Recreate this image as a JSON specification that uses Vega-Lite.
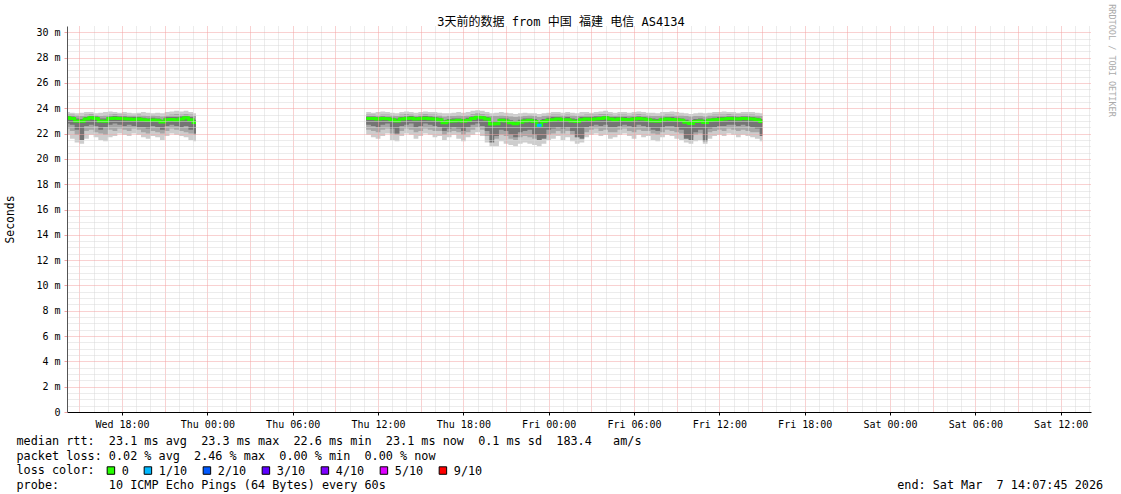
{
  "$schema": "https://vega.github.io/schema/vega-lite/v6.json",
  "width": 1024,
  "height": 386,
  "autosize": {"type": "none"},
  "padding": {"left": 67, "top": 26, "right": 30, "bottom": 82},
  "background": "white",
  "config": {"view": {"stroke": null}, "font": "DejaVu Sans Mono"},
  "data": {
    "values": [
      {"t":"2026-03-04T14:00:00Z","s":1,"m":23.25,"a1":21.9,"a2":23.7,"b1":22.4,"b2":23.5,"c1":22.8,"c2":23.4},
      {"t":"2026-03-04T14:20:00Z","s":1,"m":23.2,"a1":21.6,"a2":23.65,"b1":22.2,"b2":23.5,"c1":22.7,"c2":23.35},
      {"t":"2026-03-04T14:40:00Z","s":1,"m":23.0,"a1":21.3,"a2":23.6,"b1":21.9,"b2":23.45,"c1":22.3,"c2":23.2},
      {"t":"2026-03-04T15:00:00Z","s":1,"m":22.98,"a1":21.2,"a2":23.65,"b1":21.8,"b2":23.4,"c1":21.5,"c2":23.15},
      {"t":"2026-03-04T15:20:00Z","s":1,"m":23.15,"a1":21.6,"a2":23.7,"b1":22.2,"b2":23.5,"c1":22.6,"c2":23.3},
      {"t":"2026-03-04T15:40:00Z","s":1,"m":23.25,"a1":21.9,"a2":23.7,"b1":22.3,"b2":23.55,"c1":22.7,"c2":23.4},
      {"t":"2026-03-04T16:00:00Z","s":1,"m":23.2,"a1":21.7,"a2":23.6,"b1":22.1,"b2":23.45,"c1":22.6,"c2":23.35},
      {"t":"2026-03-04T16:20:00Z","s":1,"m":23.0,"a1":21.5,"a2":23.65,"b1":22.0,"b2":23.4,"c1":22.3,"c2":23.2},
      {"t":"2026-03-04T16:40:00Z","s":1,"m":22.98,"a1":21.4,"a2":23.7,"b1":21.9,"b2":23.45,"c1":22.5,"c2":23.2},
      {"t":"2026-03-04T17:00:00Z","s":1,"m":23.2,"a1":21.7,"a2":23.75,"b1":22.3,"b2":23.5,"c1":22.7,"c2":23.35},
      {"t":"2026-03-04T17:20:00Z","s":1,"m":23.22,"a1":21.8,"a2":23.7,"b1":22.2,"b2":23.55,"c1":22.8,"c2":23.4},
      {"t":"2026-03-04T17:40:00Z","s":1,"m":23.2,"a1":22.0,"a2":23.65,"b1":22.4,"b2":23.5,"c1":22.7,"c2":23.35},
      {"t":"2026-03-04T18:00:00Z","s":1,"m":23.18,"a1":21.9,"a2":23.7,"b1":22.3,"b2":23.5,"c1":22.6,"c2":23.35},
      {"t":"2026-03-04T18:20:00Z","s":1,"m":23.15,"a1":21.8,"a2":23.65,"b1":22.2,"b2":23.45,"c1":22.7,"c2":23.3},
      {"t":"2026-03-04T18:40:00Z","s":1,"m":23.12,"a1":22.0,"a2":23.6,"b1":22.4,"b2":23.45,"c1":22.6,"c2":23.3},
      {"t":"2026-03-04T19:00:00Z","s":1,"m":23.15,"a1":21.9,"a2":23.65,"b1":22.3,"b2":23.5,"c1":22.5,"c2":23.3},
      {"t":"2026-03-04T19:20:00Z","s":1,"m":23.1,"a1":21.7,"a2":23.7,"b1":22.1,"b2":23.45,"c1":22.5,"c2":23.25},
      {"t":"2026-03-04T19:40:00Z","s":1,"m":23.05,"a1":21.6,"a2":23.65,"b1":22.0,"b2":23.4,"c1":22.4,"c2":23.2},
      {"t":"2026-03-04T20:00:00Z","s":1,"m":23.08,"a1":21.8,"a2":23.6,"b1":22.2,"b2":23.45,"c1":22.6,"c2":23.25},
      {"t":"2026-03-04T20:20:00Z","s":1,"m":23.05,"a1":21.7,"a2":23.65,"b1":22.1,"b2":23.4,"c1":22.5,"c2":23.2},
      {"t":"2026-03-04T20:40:00Z","s":1,"m":22.92,"a1":21.5,"a2":23.6,"b1":22.0,"b2":23.35,"c1":22.3,"c2":23.1},
      {"t":"2026-03-04T21:00:00Z","s":1,"m":23.1,"a1":21.8,"a2":23.7,"b1":22.2,"b2":23.45,"c1":22.6,"c2":23.3},
      {"t":"2026-03-04T21:20:00Z","s":1,"m":23.12,"a1":22.0,"a2":23.75,"b1":22.4,"b2":23.5,"c1":22.7,"c2":23.3},
      {"t":"2026-03-04T21:40:00Z","s":1,"m":23.08,"a1":21.9,"a2":23.8,"b1":22.3,"b2":23.55,"c1":22.6,"c2":23.3},
      {"t":"2026-03-04T22:00:00Z","s":1,"m":23.15,"a1":21.8,"a2":23.75,"b1":22.2,"b2":23.5,"c1":22.5,"c2":23.35},
      {"t":"2026-03-04T22:20:00Z","s":1,"m":23.25,"a1":21.7,"a2":23.8,"b1":22.1,"b2":23.55,"c1":22.6,"c2":23.4},
      {"t":"2026-03-04T22:40:00Z","s":1,"m":23.1,"a1":21.5,"a2":23.7,"b1":22.0,"b2":23.5,"c1":22.3,"c2":23.3},
      {"t":"2026-03-04T23:00:00Z","s":1,"m":22.88,"a1":21.4,"a2":23.6,"b1":21.9,"b2":23.4,"c1":22.0,"c2":23.1},
      {"t":"2026-03-04T23:12:00Z","s":1,"m":22.88,"a1":21.4,"a2":23.6,"b1":21.9,"b2":23.4,"c1":22.0,"c2":23.1},
      {"t":"2026-03-05T11:10:00Z","s":2,"m":23.2,"a1":21.9,"a2":23.7,"b1":22.3,"b2":23.5,"c1":22.7,"c2":23.35},
      {"t":"2026-03-05T11:30:00Z","s":2,"m":23.2,"a1":21.7,"a2":23.65,"b1":22.2,"b2":23.5,"c1":22.6,"c2":23.35},
      {"t":"2026-03-05T11:50:00Z","s":2,"m":23.15,"a1":21.6,"a2":23.7,"b1":22.1,"b2":23.45,"c1":22.5,"c2":23.3},
      {"t":"2026-03-05T12:10:00Z","s":2,"m":23.2,"a1":21.8,"a2":23.75,"b1":22.3,"b2":23.5,"c1":22.7,"c2":23.35},
      {"t":"2026-03-05T12:30:00Z","s":2,"m":23.18,"a1":22.0,"a2":23.7,"b1":22.4,"b2":23.5,"c1":22.8,"c2":23.3},
      {"t":"2026-03-05T12:50:00Z","s":2,"m":23.1,"a1":21.5,"a2":23.65,"b1":22.0,"b2":23.45,"c1":22.4,"c2":23.25},
      {"t":"2026-03-05T13:10:00Z","s":2,"m":23.0,"a1":21.4,"a2":23.6,"b1":21.9,"b2":23.4,"c1":22.0,"c2":23.2},
      {"t":"2026-03-05T13:30:00Z","s":2,"m":23.15,"a1":21.8,"a2":23.7,"b1":22.2,"b2":23.5,"c1":22.6,"c2":23.3},
      {"t":"2026-03-05T13:50:00Z","s":2,"m":23.2,"a1":22.0,"a2":23.75,"b1":22.4,"b2":23.55,"c1":22.7,"c2":23.35},
      {"t":"2026-03-05T14:10:00Z","s":2,"m":23.22,"a1":21.9,"a2":23.7,"b1":22.3,"b2":23.5,"c1":22.8,"c2":23.4},
      {"t":"2026-03-05T14:30:00Z","s":2,"m":23.15,"a1":21.6,"a2":23.65,"b1":22.1,"b2":23.45,"c1":22.5,"c2":23.3},
      {"t":"2026-03-05T14:50:00Z","s":2,"m":23.2,"a1":21.8,"a2":23.7,"b1":22.2,"b2":23.5,"c1":22.6,"c2":23.35},
      {"t":"2026-03-05T15:10:00Z","s":2,"m":23.22,"a1":22.0,"a2":23.75,"b1":22.4,"b2":23.55,"c1":22.8,"c2":23.4},
      {"t":"2026-03-05T15:30:00Z","s":2,"m":23.18,"a1":21.9,"a2":23.7,"b1":22.3,"b2":23.5,"c1":22.7,"c2":23.35},
      {"t":"2026-03-05T15:50:00Z","s":2,"m":23.15,"a1":21.7,"a2":23.7,"b1":22.2,"b2":23.5,"c1":22.6,"c2":23.3},
      {"t":"2026-03-05T16:10:00Z","s":2,"m":23.1,"a1":21.8,"a2":23.65,"b1":22.2,"b2":23.45,"c1":22.5,"c2":23.25},
      {"t":"2026-03-05T16:30:00Z","s":2,"m":22.85,"a1":21.5,"a2":23.6,"b1":21.9,"b2":23.35,"c1":22.2,"c2":23.05},
      {"t":"2026-03-05T16:50:00Z","s":2,"m":22.98,"a1":21.7,"a2":23.6,"b1":22.1,"b2":23.4,"c1":22.4,"c2":23.15},
      {"t":"2026-03-05T17:10:00Z","s":2,"m":23.0,"a1":21.9,"a2":23.65,"b1":22.2,"b2":23.4,"c1":22.5,"c2":23.2},
      {"t":"2026-03-05T17:30:00Z","s":2,"m":23.05,"a1":21.6,"a2":23.7,"b1":22.1,"b2":23.45,"c1":22.4,"c2":23.2},
      {"t":"2026-03-05T17:50:00Z","s":2,"m":22.98,"a1":21.4,"a2":23.65,"b1":21.9,"b2":23.4,"c1":22.2,"c2":23.15},
      {"t":"2026-03-05T18:10:00Z","s":2,"m":23.05,"a1":21.7,"a2":23.7,"b1":22.1,"b2":23.45,"c1":22.5,"c2":23.25},
      {"t":"2026-03-05T18:30:00Z","s":2,"m":23.2,"a1":21.9,"a2":23.8,"b1":22.3,"b2":23.55,"c1":22.7,"c2":23.35},
      {"t":"2026-03-05T18:50:00Z","s":2,"m":23.3,"a1":22.1,"a2":23.85,"b1":22.5,"b2":23.6,"c1":22.8,"c2":23.45},
      {"t":"2026-03-05T19:10:00Z","s":2,"m":23.25,"a1":21.8,"a2":23.8,"b1":22.3,"b2":23.55,"c1":22.6,"c2":23.4},
      {"t":"2026-03-05T19:30:00Z","s":2,"m":23.15,"a1":21.3,"a2":23.7,"b1":21.8,"b2":23.5,"c1":22.2,"c2":23.3},
      {"t":"2026-03-05T19:50:00Z","s":2,"m":22.75,"a1":21.0,"a2":23.6,"b1":21.5,"b2":23.4,"c1":21.3,"c2":23.0},
      {"t":"2026-03-05T20:10:00Z","s":2,"m":22.78,"a1":21.0,"a2":23.65,"b1":21.6,"b2":23.4,"c1":21.8,"c2":23.0},
      {"t":"2026-03-05T20:30:00Z","s":2,"m":23.05,"a1":21.4,"a2":23.7,"b1":21.9,"b2":23.45,"c1":22.3,"c2":23.2},
      {"t":"2026-03-05T20:50:00Z","s":2,"m":23.0,"a1":21.2,"a2":23.65,"b1":21.8,"b2":23.4,"c1":22.2,"c2":23.2},
      {"t":"2026-03-05T21:10:00Z","s":2,"m":22.85,"a1":21.1,"a2":23.6,"b1":21.6,"b2":23.35,"c1":21.9,"c2":23.05},
      {"t":"2026-03-05T21:30:00Z","s":2,"m":22.78,"a1":21.0,"a2":23.55,"b1":21.5,"b2":23.3,"c1":21.7,"c2":23.0},
      {"t":"2026-03-05T21:50:00Z","s":2,"m":22.9,"a1":21.2,"a2":23.6,"b1":21.7,"b2":23.35,"c1":22.1,"c2":23.1},
      {"t":"2026-03-05T22:10:00Z","s":2,"m":23.0,"a1":21.3,"a2":23.65,"b1":21.8,"b2":23.4,"c1":22.2,"c2":23.2},
      {"t":"2026-03-05T22:30:00Z","s":2,"m":23.05,"a1":21.2,"a2":23.6,"b1":21.7,"b2":23.45,"c1":22.3,"c2":23.2},
      {"t":"2026-03-05T22:50:00Z","s":2,"m":22.95,"a1":21.1,"a2":23.6,"b1":21.6,"b2":23.4,"c1":21.9,"c2":23.15},
      {"t":"2026-03-05T23:10:00Z","s":2,"m":22.65,"a1":21.0,"a2":23.55,"b1":21.5,"b2":23.3,"c1":21.5,"c2":22.95},
      {"t":"2026-03-05T23:30:00Z","s":2,"m":22.95,"a1":21.2,"a2":23.6,"b1":21.7,"b2":23.4,"c1":21.6,"c2":23.15},
      {"t":"2026-03-05T23:50:00Z","s":2,"m":23.05,"a1":21.5,"a2":23.65,"b1":21.9,"b2":23.45,"c1":22.3,"c2":23.25},
      {"t":"2026-03-06T00:10:00Z","s":2,"m":23.1,"a1":21.6,"a2":23.7,"b1":22.0,"b2":23.5,"c1":22.4,"c2":23.3},
      {"t":"2026-03-06T00:30:00Z","s":2,"m":23.15,"a1":21.8,"a2":23.7,"b1":22.2,"b2":23.5,"c1":22.5,"c2":23.3},
      {"t":"2026-03-06T00:50:00Z","s":2,"m":23.1,"a1":21.5,"a2":23.65,"b1":22.0,"b2":23.45,"c1":22.4,"c2":23.25},
      {"t":"2026-03-06T01:10:00Z","s":2,"m":23.1,"a1":21.7,"a2":23.7,"b1":22.2,"b2":23.5,"c1":22.5,"c2":23.3},
      {"t":"2026-03-06T01:30:00Z","s":2,"m":23.0,"a1":21.4,"a2":23.65,"b1":21.9,"b2":23.45,"c1":22.2,"c2":23.2},
      {"t":"2026-03-06T01:50:00Z","s":2,"m":22.95,"a1":21.2,"a2":23.6,"b1":21.7,"b2":23.4,"c1":21.7,"c2":23.15},
      {"t":"2026-03-06T02:10:00Z","s":2,"m":23.1,"a1":21.3,"a2":23.7,"b1":21.8,"b2":23.45,"c1":21.6,"c2":23.3},
      {"t":"2026-03-06T02:30:00Z","s":2,"m":23.15,"a1":21.7,"a2":23.7,"b1":22.1,"b2":23.5,"c1":22.5,"c2":23.3},
      {"t":"2026-03-06T02:50:00Z","s":2,"m":23.12,"a1":21.9,"a2":23.65,"b1":22.3,"b2":23.5,"c1":22.6,"c2":23.3},
      {"t":"2026-03-06T03:10:00Z","s":2,"m":23.15,"a1":22.0,"a2":23.7,"b1":22.4,"b2":23.5,"c1":22.7,"c2":23.35},
      {"t":"2026-03-06T03:30:00Z","s":2,"m":23.2,"a1":21.8,"a2":23.75,"b1":22.2,"b2":23.55,"c1":22.6,"c2":23.35},
      {"t":"2026-03-06T03:50:00Z","s":2,"m":23.25,"a1":21.9,"a2":23.8,"b1":22.3,"b2":23.55,"c1":22.7,"c2":23.4},
      {"t":"2026-03-06T04:10:00Z","s":2,"m":23.15,"a1":21.6,"a2":23.7,"b1":22.1,"b2":23.5,"c1":22.5,"c2":23.3},
      {"t":"2026-03-06T04:30:00Z","s":2,"m":23.1,"a1":21.7,"a2":23.65,"b1":22.1,"b2":23.45,"c1":22.5,"c2":23.3},
      {"t":"2026-03-06T04:50:00Z","s":2,"m":23.15,"a1":21.9,"a2":23.7,"b1":22.3,"b2":23.5,"c1":22.6,"c2":23.3},
      {"t":"2026-03-06T05:10:00Z","s":2,"m":23.12,"a1":22.0,"a2":23.7,"b1":22.4,"b2":23.5,"c1":22.7,"c2":23.3},
      {"t":"2026-03-06T05:30:00Z","s":2,"m":23.1,"a1":21.8,"a2":23.65,"b1":22.2,"b2":23.45,"c1":22.6,"c2":23.25},
      {"t":"2026-03-06T05:50:00Z","s":2,"m":23.15,"a1":21.6,"a2":23.7,"b1":22.1,"b2":23.5,"c1":22.5,"c2":23.3},
      {"t":"2026-03-06T06:10:00Z","s":2,"m":23.2,"a1":21.9,"a2":23.75,"b1":22.3,"b2":23.55,"c1":22.7,"c2":23.35},
      {"t":"2026-03-06T06:30:00Z","s":2,"m":23.15,"a1":21.7,"a2":23.7,"b1":22.2,"b2":23.5,"c1":22.6,"c2":23.3},
      {"t":"2026-03-06T06:50:00Z","s":2,"m":23.1,"a1":21.8,"a2":23.65,"b1":22.2,"b2":23.45,"c1":22.5,"c2":23.25},
      {"t":"2026-03-06T07:10:00Z","s":2,"m":23.0,"a1":21.5,"a2":23.65,"b1":22.0,"b2":23.4,"c1":22.3,"c2":23.2},
      {"t":"2026-03-06T07:30:00Z","s":2,"m":22.98,"a1":21.4,"a2":23.6,"b1":21.9,"b2":23.4,"c1":22.2,"c2":23.15},
      {"t":"2026-03-06T07:50:00Z","s":2,"m":23.1,"a1":21.7,"a2":23.7,"b1":22.1,"b2":23.45,"c1":22.5,"c2":23.25},
      {"t":"2026-03-06T08:10:00Z","s":2,"m":23.15,"a1":21.9,"a2":23.7,"b1":22.3,"b2":23.5,"c1":22.6,"c2":23.3},
      {"t":"2026-03-06T08:30:00Z","s":2,"m":23.12,"a1":21.8,"a2":23.75,"b1":22.2,"b2":23.5,"c1":22.6,"c2":23.3},
      {"t":"2026-03-06T08:50:00Z","s":2,"m":23.1,"a1":21.6,"a2":23.7,"b1":22.1,"b2":23.45,"c1":22.5,"c2":23.25},
      {"t":"2026-03-06T09:10:00Z","s":2,"m":23.05,"a1":21.5,"a2":23.65,"b1":22.0,"b2":23.45,"c1":22.3,"c2":23.2},
      {"t":"2026-03-06T09:30:00Z","s":2,"m":22.9,"a1":21.3,"a2":23.6,"b1":21.8,"b2":23.4,"c1":21.6,"c2":23.1},
      {"t":"2026-03-06T09:50:00Z","s":2,"m":22.8,"a1":21.2,"a2":23.55,"b1":21.7,"b2":23.35,"c1":21.5,"c2":23.0},
      {"t":"2026-03-06T10:10:00Z","s":2,"m":22.95,"a1":21.4,"a2":23.6,"b1":21.9,"b2":23.4,"c1":22.1,"c2":23.15},
      {"t":"2026-03-06T10:30:00Z","s":2,"m":23.0,"a1":21.5,"a2":23.65,"b1":22.0,"b2":23.4,"c1":22.3,"c2":23.2},
      {"t":"2026-03-06T10:50:00Z","s":2,"m":22.88,"a1":21.2,"a2":23.6,"b1":21.7,"b2":23.35,"c1":21.4,"c2":23.1},
      {"t":"2026-03-06T11:10:00Z","s":2,"m":23.05,"a1":21.6,"a2":23.65,"b1":22.1,"b2":23.45,"c1":22.4,"c2":23.2},
      {"t":"2026-03-06T11:30:00Z","s":2,"m":23.1,"a1":21.8,"a2":23.7,"b1":22.2,"b2":23.5,"c1":22.5,"c2":23.25},
      {"t":"2026-03-06T11:50:00Z","s":2,"m":23.12,"a1":21.9,"a2":23.7,"b1":22.3,"b2":23.5,"c1":22.6,"c2":23.3},
      {"t":"2026-03-06T12:10:00Z","s":2,"m":23.15,"a1":21.8,"a2":23.75,"b1":22.2,"b2":23.5,"c1":22.6,"c2":23.3},
      {"t":"2026-03-06T12:30:00Z","s":2,"m":23.2,"a1":22.0,"a2":23.7,"b1":22.4,"b2":23.55,"c1":22.7,"c2":23.35},
      {"t":"2026-03-06T12:50:00Z","s":2,"m":23.18,"a1":21.9,"a2":23.7,"b1":22.3,"b2":23.5,"c1":22.7,"c2":23.35},
      {"t":"2026-03-06T13:10:00Z","s":2,"m":23.15,"a1":21.7,"a2":23.65,"b1":22.2,"b2":23.5,"c1":22.6,"c2":23.3},
      {"t":"2026-03-06T13:30:00Z","s":2,"m":23.2,"a1":21.9,"a2":23.7,"b1":22.3,"b2":23.5,"c1":22.7,"c2":23.35},
      {"t":"2026-03-06T13:50:00Z","s":2,"m":23.18,"a1":21.8,"a2":23.7,"b1":22.2,"b2":23.5,"c1":22.6,"c2":23.35},
      {"t":"2026-03-06T14:10:00Z","s":2,"m":23.15,"a1":21.7,"a2":23.7,"b1":22.1,"b2":23.5,"c1":22.5,"c2":23.3},
      {"t":"2026-03-06T14:30:00Z","s":2,"m":23.1,"a1":21.6,"a2":23.65,"b1":22.1,"b2":23.45,"c1":22.4,"c2":23.25},
      {"t":"2026-03-06T14:50:00Z","s":2,"m":22.95,"a1":21.4,"a2":23.6,"b1":21.9,"b2":23.4,"c1":21.8,"c2":23.15},
      {"t":"2026-03-06T15:02:00Z","s":2,"m":22.95,"a1":21.4,"a2":23.6,"b1":21.9,"b2":23.4,"c1":21.8,"c2":23.15}
    ]
  },
  "layer": [
    {
      "mark": {"type": "area", "interpolate": "step-after", "color": "#cdcdcd", "clip": true},
      "encoding": {
        "x": {
          "field": "t", "type": "temporal",
          "scale": {"type": "utc", "domain": [
            {"year": 2026, "month": 3, "date": 4, "hours": 14, "minutes": 7, "seconds": 45, "utc": true},
            {"year": 2026, "month": 3, "date": 7, "hours": 14, "minutes": 7, "seconds": 45, "utc": true}
          ]},
          "axis": {
            "orient": "bottom", "zindex": 1,
            "tickCount": 72,
            "grid": true, "gridDash": [1, 1], "gridWidth": 1, "gridOpacity": 1,
            "gridColor": {"condition": {"test": "utchours(datum.value) % 3 === 0", "value": "#f2a2a2"}, "value": "#d8d8d8"},
            "domainColor": "#000000", "domainWidth": 1,
            "ticks": true, "tickSize": 3, "tickWidth": 1,
            "tickColor": {"condition": {"test": "utchours(datum.value) % 6 === 0", "value": "#000000"}, "value": "transparent"},
            "labelExpr": "utchours(datum.value) % 6 === 0 ? utcFormat(datum.value, '%a %H:%M') : ''",
            "labelFont": "DejaVu Sans Mono", "labelFontSize": 10, "labelColor": "#000000", "labelPadding": 4,
            "labelOverlap": false, "labelFlush": false, "labelBound": false,
            "title": [
              "median rtt:\u00a0\u00a023.1 ms avg\u00a0\u00a023.3 ms max\u00a0\u00a022.6 ms min\u00a0\u00a023.1 ms now\u00a0\u00a00.1 ms sd\u00a0\u00a0183.4\u00a0\u00a0\u00a0am/s",
              "packet loss: 0.02 % avg\u00a0\u00a02.46 % max\u00a0\u00a00.00 % min\u00a0\u00a00.00 % now",
              "loss color:",
              "probe:\u00a0\u00a0\u00a0\u00a0\u00a0\u00a0\u00a010 ICMP Echo Pings (64 Bytes) every 60s\u00a0\u00a0\u00a0\u00a0\u00a0\u00a0\u00a0\u00a0\u00a0\u00a0\u00a0\u00a0\u00a0\u00a0\u00a0\u00a0\u00a0\u00a0\u00a0\u00a0\u00a0\u00a0\u00a0\u00a0\u00a0\u00a0\u00a0\u00a0\u00a0\u00a0\u00a0\u00a0\u00a0\u00a0\u00a0\u00a0\u00a0\u00a0\u00a0\u00a0\u00a0\u00a0\u00a0\u00a0\u00a0\u00a0\u00a0\u00a0\u00a0\u00a0\u00a0\u00a0\u00a0\u00a0\u00a0\u00a0\u00a0\u00a0\u00a0\u00a0\u00a0\u00a0\u00a0\u00a0\u00a0\u00a0\u00a0\u00a0\u00a0\u00a0\u00a0\u00a0end: Sat Mar\u00a0\u00a07 14:07:45 2026"
            ],
            "titleFont": "DejaVu Sans Mono", "titleFontSize": 11.8, "titleFontWeight": "normal", "titleColor": "#000000",
            "titleAlign": "left", "titleAnchor": "start", "titleBaseline": "alphabetic", "titleLineHeight": 14.9,
            "titleX": -51, "titleY": 32.2, "titleAngle": 0
          }
        },
        "y": {
          "field": "a1", "type": "quantitative",
          "scale": {"domain": [0, 30.5], "nice": false, "zero": true},
          "axis": {
            "orient": "left", "zindex": 1,
            "values": [0,0.5,1,1.5,2,2.5,3,3.5,4,4.5,5,5.5,6,6.5,7,7.5,8,8.5,9,9.5,10,10.5,11,11.5,12,12.5,13,13.5,14,14.5,15,15.5,16,16.5,17,17.5,18,18.5,19,19.5,20,20.5,21,21.5,22,22.5,23,23.5,24,24.5,25,25.5,26,26.5,27,27.5,28,28.5,29,29.5,30],
            "grid": true, "gridDash": [1, 1], "gridWidth": 1, "gridOpacity": 1,
            "gridColor": {"condition": {"test": "datum.value % 2 === 0", "value": "#f2a2a2"}, "value": "#d8d8d8"},
            "domainColor": "#555555", "domainWidth": 1,
            "ticks": true, "tickSize": 3, "tickWidth": 1,
            "tickColor": {"condition": {"test": "datum.value % 2 === 0", "value": "#f2a2a2"}, "value": "transparent"},
            "labelExpr": "datum.value % 2 === 0 ? (datum.value === 0 ? '0  ' : datum.value + ' m') : ''",
            "labelFont": "DejaVu Sans Mono", "labelFontSize": 10, "labelColor": "#000000", "labelPadding": 4,
            "labelOverlap": false, "labelFlush": false, "labelBaseline": "middle",
            "title": "Seconds",
            "titleFont": "DejaVu Sans Mono", "titleFontSize": 11.4, "titleFontWeight": "normal", "titleColor": "#000000",
            "titleAngle": -90, "titleAlign": "center", "titleBaseline": "middle", "titleX": -56.5, "titleY": 193
          }
        },
        "y2": {"field": "a2"},
        "detail": {"field": "s"}
      }
    },
    {
      "mark": {"type": "area", "interpolate": "step-after", "color": "#a6a6a6", "clip": true},
      "encoding": {
        "x": {"field": "t", "type": "temporal", "axis": null},
        "y": {"field": "b1", "type": "quantitative", "axis": null},
        "y2": {"field": "b2"},
        "detail": {"field": "s"}
      }
    },
    {
      "mark": {"type": "area", "interpolate": "step-after", "color": "#747474", "clip": true},
      "encoding": {
        "x": {"field": "t", "type": "temporal", "axis": null},
        "y": {"field": "c1", "type": "quantitative", "axis": null},
        "y2": {"field": "c2"},
        "detail": {"field": "s"}
      }
    },
    {
      "mark": {"type": "line", "interpolate": "step-after", "color": "#26ff00", "strokeWidth": 3, "clip": true},
      "encoding": {
        "x": {"field": "t", "type": "temporal", "axis": null},
        "y": {"field": "m", "type": "quantitative", "axis": null},
        "detail": {"field": "s"}
      }
    },
    {
      "data": {
        "values": [
          {"t": "2026-03-05T23:10:00Z", "t2": "2026-03-05T23:30:00Z", "lo": 22.53, "hi": 22.77, "loss": "1/10"}
        ]
      },
      "mark": {"type": "rect", "clip": true},
      "encoding": {
        "x": {"field": "t", "type": "temporal", "axis": null},
        "x2": {"field": "t2"},
        "y": {"field": "lo", "type": "quantitative", "axis": null},
        "y2": {"field": "hi"},
        "color": {
          "field": "loss", "type": "nominal",
          "scale": {"domain": ["0", "1/10", "2/10", "3/10", "4/10", "5/10", "9/10"],
                    "range": ["#26ff00", "#00b8ff", "#0059ff", "#5e00ff", "#7e00ff", "#dd00ff", "#ff0000"]},
          "legend": {
            "orient": "none", "legendX": 38, "legendY": 438.5,
            "direction": "horizontal", "columns": 7, "padding": 0,
            "title": null,
            "labelFont": "DejaVu Sans Mono", "labelFontSize": 11.8, "labelColor": "#000000", "labelOffset": 5,
            "columnPadding": 13, "symbolType": "square", "symbolSize": 56,
            "symbolStrokeColor": "#000000", "symbolStrokeWidth": 1, "symbolOpacity": 1
          }
        }
      }
    },
    {
      "mark": {"type": "point", "opacity": 0},
      "encoding": {
        "x": {
          "field": "t", "type": "temporal",
          "axis": {
            "orient": "top", "labels": false, "ticks": false, "domain": false, "grid": false,
            "title": "3天前的数据 from 中国 福建 电信 AS4134",
            "titleFont": "DejaVu Sans Mono, Noto Sans CJK SC", "titleFontSize": 12, "titleFontWeight": "normal", "titleColor": "#000000",
            "titleX": 493.5, "titleY": -0.5, "titleAlign": "center", "titleBaseline": "alphabetic", "titleAngle": 0
          }
        },
        "y": {
          "field": "m", "type": "quantitative",
          "axis": {
            "orient": "right", "labels": false, "ticks": false, "domain": false, "grid": false,
            "title": "RRDTOOL / TOBI OETIKER",
            "titleFont": "DejaVu Sans Mono", "titleFontSize": 8.5, "titleFontWeight": "normal", "titleColor": "#aaaaaa",
            "titleAngle": 90, "titleX": 20.5, "titleY": 34, "titleAlign": "center", "titleBaseline": "middle"
          }
        }
      }
    }
  ],
  "resolve": {"axis": {"x": "independent", "y": "independent"}}
}
